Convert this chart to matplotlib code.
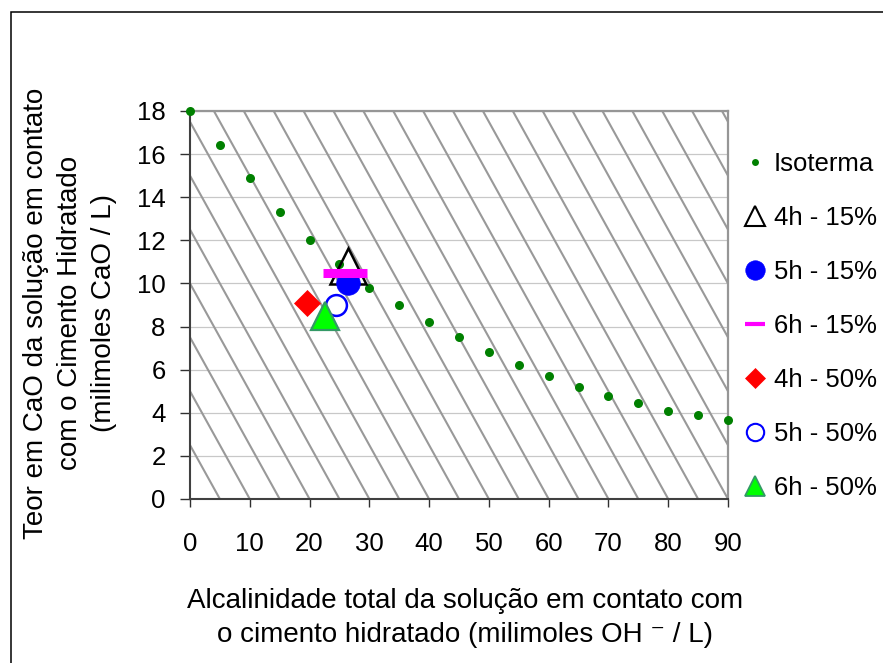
import matplotlib
matplotlib.use('Agg')
import matplotlib.pyplot as plt
from matplotlib.lines import Line2D
from matplotlib.patches import Rectangle

plt.rcParams['font.family'] = ['Liberation Sans', 'DejaVu Sans']

# ---------------- data ----------------
iso_x = [0, 5, 10, 15, 20, 25, 30, 35, 40, 45, 50, 55, 60, 65, 70, 75, 80, 85, 90]
iso_y = [18.0, 16.4, 14.9, 13.3, 12.0, 10.9, 9.8, 9.0, 8.2, 7.5, 6.8, 6.2,
         5.7, 5.2, 4.8, 4.45, 4.1, 3.9, 3.65]

sample_labels = ['4h - 15%', '5h - 15%', '6h - 15%', '4h - 50%', '5h - 50%', '6h - 50%']
sample_x = [26.5, 26.5, 26.0, 19.5, 24.5, 22.5]
sample_y = [10.8, 10.0, 10.5, 9.1, 9.0, 8.5]

x_ticks = [0, 10, 20, 30, 40, 50, 60, 70, 80, 90]
y_ticks = [0, 2, 4, 6, 8, 10, 12, 14, 16, 18]

xlabel = 'Alcalinidade total da solução em contato com\no cimento hidratado (milimoles OH ⁻ / L)'
ylabel = 'Teor em CaO da solução em contato\ncom o Cimento Hidratado\n(milimoles CaO / L)'

# ---------------- styles ----------------
sample_styles = [
    dict(marker='^', ms=26, mfc='none', mec='black', mew=1.8),
    dict(marker='o', ms=17, mfc='#0000ff', mec='#0000ff', mew=0.5),
    dict(marker='_', ms=31, mec='#ff00ff', mew=6.5),
    dict(marker='D', ms=13.7, mfc='#ff0000', mec='#ff0000', mew=0.5),
    dict(marker='o', ms=15, mfc='white', mec='#0000ff', mew=1.8),
    dict(marker='^', ms=19.5, mfc='#00ff00', mec='#339966', mew=1.6),
]
legend_styles = [
    dict(marker='^', ms=14, mfc='none', mec='black', mew=1.5),
    dict(marker='o', ms=14, mfc='#0000ff', mec='#0000ff', mew=0.5),
    dict(marker='_', ms=14, mec='#ff00ff', mew=3),
    dict(marker='D', ms=10, mfc='#ff0000', mec='#ff0000', mew=0.5),
    dict(marker='o', ms=12.5, mfc='white', mec='#0000ff', mew=1.5),
    dict(marker='^', ms=14, mfc='#00ff00', mec='#339966', mew=1.3),
]

HATCH_OFFSET = 4.0
HATCH_SPACING = 5.0
HATCH_SLOPE = -0.5

W, H = 883, 663
fig = plt.figure(figsize=(W / 100, H / 100), dpi=100)
ax = fig.add_axes([190 / W, 1 - 499 / H, (728 - 190) / W, (499 - 111) / H])
ax.set_xlim(0, 90)
ax.set_ylim(0, 18)

# background diagonal pattern
k = -8
while HATCH_OFFSET + HATCH_SPACING * k < 90:
    ax.axline((HATCH_OFFSET + HATCH_SPACING * k, 18), slope=HATCH_SLOPE,
              color='#999999', lw=1.5, zorder=1)
    k += 1

ax.set_axisbelow(True)
ax.yaxis.grid(True, color='#c8c8c8', lw=0.9)

ax.plot(iso_x, iso_y, ls='none', marker='o', color='#008000', ms=6.5,
        mec='none', zorder=3, clip_on=False)
for xv, yv, st in zip(sample_x, sample_y, sample_styles):
    ax.plot([xv], [yv], ls='none', zorder=4, **st)

ax.set_xticks(x_ticks)
ax.set_yticks(y_ticks)
ax.tick_params(axis='y', length=7.5, width=1, color='#303030', pad=10,
               labelsize=18.5, direction='out')
ax.tick_params(axis='x', length=6, width=1, color='#303030', pad=18,
               labelsize=18.5, direction='out')

for s in ['left', 'bottom']:
    ax.spines[s].set_color('#404040')
    ax.spines[s].set_linewidth(1.5)
for s in ['top', 'right']:
    ax.spines[s].set_color('#969696')
    ax.spines[s].set_linewidth(1.6)

ax.set_xlabel(xlabel, fontsize=20, linespacing=1.4)
ax.xaxis.label.set_va('center')
ax.xaxis.set_label_coords((465 - 190) / 538, (499 - 618) / 388)

ax.set_ylabel(ylabel, fontsize=20, linespacing=1.4)
ax.yaxis.label.set_va('center')
ax.yaxis.set_label_coords((70 - 190) / 538, (499 - 313) / 388)

handles = [Line2D([], [], ls='none', marker='o', color='#008000', ms=5, mec='none')]
for st in legend_styles:
    handles.append(Line2D([], [], ls='none', **st))
ax.legend(handles=handles, labels=['Isoterma'] + sample_labels,
          loc='upper left', bbox_to_anchor=(742 / W, 1 - 152 / H),
          bbox_transform=fig.transFigure, frameon=False, fontsize=18.5,
          handlelength=1.0, handletextpad=0.25, labelspacing=1.17,
          borderpad=0, borderaxespad=0)

fig.add_artist(Rectangle((11 / W, -0.1), 1.2, 1 - 12 / H + 0.1, fill=False,
                         ec='black', lw=1.1, transform=fig.transFigure))

fig.savefig('out.png', dpi=100)
